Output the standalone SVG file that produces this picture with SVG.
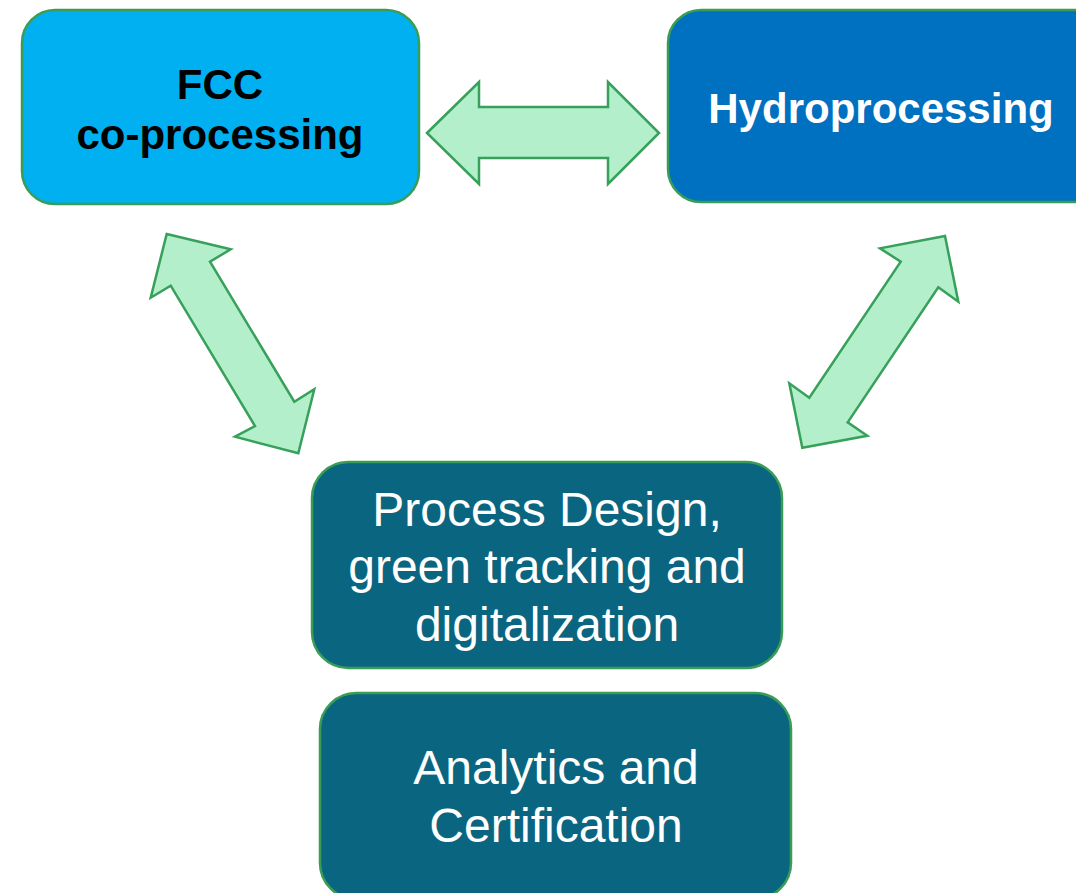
<svg xmlns="http://www.w3.org/2000/svg" width="1076" height="893" viewBox="0 0 1076 893">
<style>
.box{stroke:#3A9D55;stroke-width:2.5}
.arr{fill:#B3EFCB;stroke:#37A05A;stroke-width:2.5;stroke-linejoin:miter}
.t{font-family:"Liberation Sans",Arial,sans-serif;text-anchor:middle}
.b{font-weight:bold;font-size:42px}
.r{font-size:48px;fill:#fff}
</style>
<rect width="1076" height="893" fill="#fff"/>
<g id="connectors">
<polygon class="arr" points="427,133 479,82 479,107 608,107 608,82 659,133 608,184 608,158 479,158 479,184"/>
<polygon class="arr" points="166.7,234 230.7,249.3 210,261.7 294.3,401.7 314.3,389.3 298.3,453.3 235,436.7 255,426 170.7,285.7 150.7,297.7"/>
<polygon class="arr" points="945,236 958.3,301.7 938.3,287.3 847.7,422.3 867.3,435.7 802.3,447.7 789.3,383.3 809.3,397.7 900.7,261.7 880,248.3"/>
</g>
<g id="fcc">
<rect class="box" x="22" y="10" width="397" height="194" rx="33" fill="#00B0F0"/>
<text class="t b" x="220" y="99" fill="#000">FCC</text>
<text class="t b" x="220" y="149" fill="#000">co-processing</text>
</g>
<g id="hydro">
<rect class="box" x="668" y="10" width="440" height="192" rx="33" fill="#0070C0"/>
<text class="t b" x="881" y="123" fill="#fff">Hydroprocessing</text>
</g>
<g id="process">
<rect class="box" x="312" y="462" width="470" height="206" rx="36" fill="#0A6680"/>
<text class="t r" x="547" y="526">Process Design,</text>
<text class="t r" x="547" y="583">green tracking and</text>
<text class="t r" x="547" y="641">digitalization</text>
</g>
<g id="analytics">
<rect class="box" x="320" y="693" width="471" height="206" rx="36" fill="#0A6680"/>
<text class="t r" x="556" y="784">Analytics and</text>
<text class="t r" x="556" y="842">Certification</text>
</g>
</svg>
